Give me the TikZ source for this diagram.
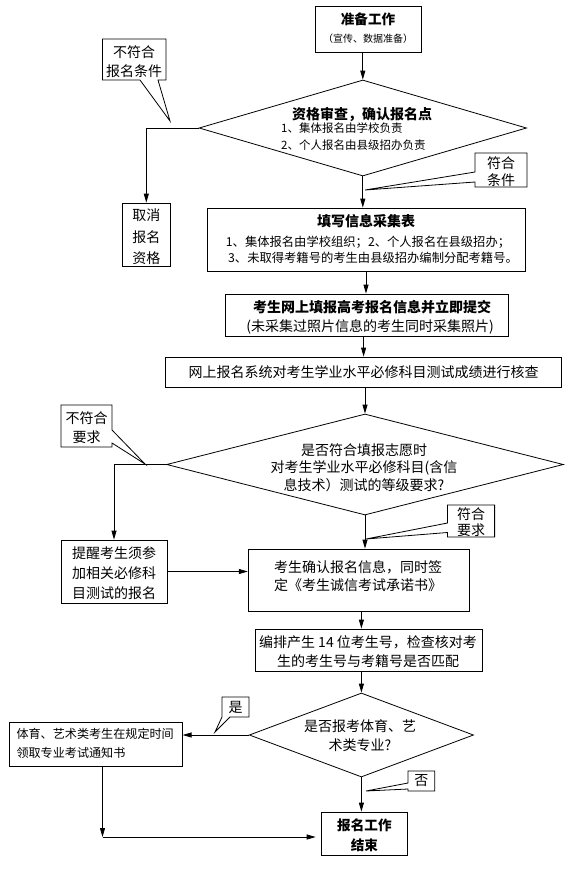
\documentclass[tikz,border=0pt]{standalone}
\usepackage{fontspec}
\setmainfont{Noto Sans CJK SC}
\usetikzlibrary{shapes.geometric,arrows.meta}
\newcommand\myfs[2]{\fontsize{#1}{#2}\selectfont}
\begin{document}
\begin{tikzpicture}[x=1pt,y=-1pt,
  box/.style={draw,line width=0.8pt,inner sep=0pt,fill=white},
  dia/.style={draw,diamond,line width=0.8pt,inner sep=0pt},
  txt/.style={inner sep=0pt,align=center,font=\myfs{14}{20}},
  conn/.style={line width=0.8pt},
  arr/.style={line width=0.8pt,-{Triangle[length=9pt,width=5pt]}},
  call/.style={draw,line width=0.8pt,fill=white,line join=miter}]
\useasboundingbox (0,0) rectangle (568,876);

% ---- main boxes
\node[box,minimum width=106pt,minimum height=46pt] (b1) at (368,29) {};
\node[txt,font=\myfs{13.6}{16}\bfseries] (t1a) at (368,19) {准备工作};
\node[txt,font=\myfs{10}{12}] (t1b) at (368,39) {（宣传、数据准备）};

\node[dia,minimum width=327.5pt,minimum height=96pt] (d1) at (362.8,128) {};
\node[txt,font=\myfs{14}{16}\bfseries] (td1) at (362,114) {资格审查，确认报名点};
\node[txt,anchor=west,font=\myfs{11.5}{14}] (td1b) at (281,128) {1、集体报名由学校负责};
\node[txt,anchor=west,font=\myfs{11.5}{14}] (td1c) at (281,145) {2、个人报名由县级招办负责};

\node[box,minimum width=48pt,minimum height=63pt] (c1) at (146.3,234.5) {};
\node[txt,font=\myfs{14}{21.5}] (tc1) at (146.3,237) {取消\\报名\\资格};

\node[box,minimum width=318pt,minimum height=63pt] (b3) at (366,239.5) {};
\node[txt,font=\myfs{14}{16}\bfseries] (t3a) at (366,221) {填写信息采集表};
\node[txt,font=\myfs{12.3}{14}] (t3b) at (368,242) {1、集体报名由学校组织；2、个人报名在县级招办；};
\node[txt,font=\myfs{12.3}{14}] (t3c) at (373,258) {3、未取得考籍号的考生由县级招办编制分配考籍号。};

\node[box,minimum width=283pt,minimum height=42pt] (b4) at (366.5,315) {};
\node[txt,font=\myfs{14}{16}\bfseries] (t4a) at (372,307) {考生网上填报高考报名信息并立即提交};
\node[txt] (t4b) at (370,327) {(未采集过照片信息的考生同时采集照片)};

\node[box,minimum width=396pt,minimum height=30pt] (b5) at (363.6,372) {};
\node[txt] (t5) at (363.6,372) {网上报名系统对考生学业水平必修科目测试成绩进行核查};

\node[dia,minimum width=396.7pt,minimum height=101pt] (d2) at (365,464.5) {};
\node[txt,font=\myfs{14}{17.5}] (td2) at (364,467.5) {是否符合填报志愿时\\对考生学业水平必修科目(含信\\息技术）测试的等级要求?};

\node[box,minimum width=106pt,minimum height=63pt] (r) at (114,571.5) {};
\node[txt,font=\myfs{14}{20}] (tr) at (114,573) {提醒考生须参\\加相关必修科\\目测试的报名};

\node[box,minimum width=221pt,minimum height=62pt] (b6) at (358.7,580) {};
\node[txt,align=left,font=\myfs{14}{18}] (t6) at (358,576) {考生确认报名信息，同时签\\定《考生诚信考试承诺书》};

\node[box,minimum width=226.6pt,minimum height=42pt] (b7) at (368.7,650) {};
\node[txt,font=\myfs{14}{19}] (t7) at (368,651.5) {编排产生 14 位考生号，检查核对考\\生的考生号与考籍号是否匹配};

\node[dia,minimum width=224.3pt,minimum height=84pt] (d3) at (361.4,735) {};
\node[txt,font=\myfs{14}{19}] (td3) at (360,735.5) {是否报考体育、艺\\术类专业?};

\node[box,minimum width=173pt,minimum height=44pt] (b8) at (95.7,744) {};
\node[txt,anchor=west,align=left,font=\myfs{12.1}{19}] (t8) at (16.3,743.5) {体育、艺术类考生在规定时间\\领取专业考试通知书};

\node[box,minimum width=86.6pt,minimum height=43pt] (e) at (364.4,833.5) {};
\node[txt,font=\myfs{13.6}{20}\bfseries] (te) at (364.4,835) {报名工作\\结束};

% ---- connectors
\draw[arr] (d1.north |- b1.south) -- (d1.north);
\draw[arr] (d1.west) -| (c1.north);
\draw[arr] (d1.south) -- (d1.south |- b3.north);
\draw[arr] (b3.south) -- (b3.south |- b4.north);
\draw[arr] (b5.north |- b4.south) -- (b5.north);
\draw[arr] (d2.north |- b5.south) -- (d2.north);
\draw[arr] (d2.south) -- (d2.south |- b6.north);
\draw[arr] (d2.west) -| (r.north);
\draw[arr] (r.east) -- (r.east -| b6.west);
\draw[arr] (d3.north |- b6.south) -- (d3.north |- b7.north);
\draw[arr] (d3.north |- b7.south) -- (d3.north);
\draw[arr] (d3.west) -- (d3.west -| b8.east);
\draw[arr] (d3.south) -- (d3.south |- e.north);
\coordinate (k) at (102.5,837);
\draw[arr] (k |- b8.south) -- (k);
\draw[arr,shorten >=5pt] (k) -- (k -| e.west);

% ---- callouts
\draw[call] (102.5,39) -- (166,39) -- (166,80) -- (158,80) -- (170,121) -- (140,80) -- (102.5,80) -- cycle;
\node[txt,font=\myfs{14}{19}] (k1) at (134,61.5) {不符合\\报名条件};

\draw[call] (475,153) -- (527,153) -- (527,187) -- (475,187) -- (475,182) -- (365,190) -- (475,172) -- cycle;
\node[txt,font=\myfs{14}{17}] (k2) at (501,171.5) {符合\\条件};

\draw[call] (61,405) -- (112,405) -- (112,430) -- (145,464) -- (112,443) -- (112,447) -- (61,447) -- cycle;
\node[txt,font=\myfs{14}{19}] (k3) at (86.5,427.5) {不符合\\要求};

\draw[call] (447.5,505) -- (494.6,505) -- (494.6,537) -- (447.5,537) -- (447.5,532.5) -- (366,539) -- (447.5,523) -- cycle;
\node[txt,font=\myfs{14}{16}] (k4) at (471,522.5) {符合\\要求};

\draw[call] (222,697) -- (249,697) -- (249,717) -- (230,717) -- (215,732) -- (222,717) -- cycle;
\node[txt] (k5) at (235.5,707) {是};

\draw[call] (408,771) -- (434.8,771) -- (434.8,791) -- (408,791) -- (408,789) -- (366,791) -- (408,783) -- cycle;
\node[txt] (k6) at (421.4,781) {否};
\end{tikzpicture}
\end{document}
